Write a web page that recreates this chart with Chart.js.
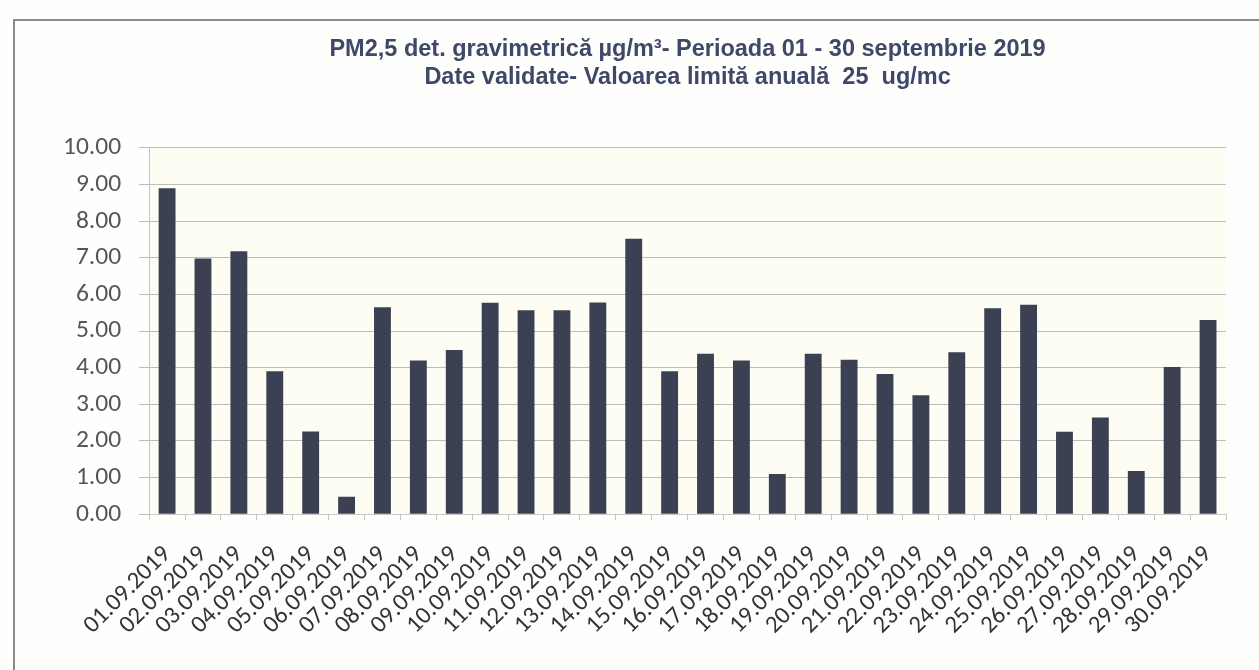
<!DOCTYPE html>
<html lang="ro">

<head>
    <meta charset="UTF-8">
    <title>PM2,5 septembrie 2019</title>
    <style>
        html, body { margin: 0; padding: 0; background: #fefefc; }
        #frame {
            position: absolute; left: 13px; top: 19px;
            width: 1300px; height: 700px;
            border-left: 2px solid #8a8a8a; border-top: 2px solid #8a8a8a;
        }
        #wrap { position: absolute; left: 0; top: 0; width: 1259px; height: 670px; }
    </style>
</head>

<body>
    <div id="frame"></div>
    <div id="wrap">
        <canvas id="myChart" width="1259" height="670"></canvas>
    </div>

    <script src="https://cdn.jsdelivr.net/npm/chart.js/dist/chart.umd.min.js"></script>
    <script>
        // zilele lunii
        const days = [
            '01.09.2019', '02.09.2019', '03.09.2019', '04.09.2019', '05.09.2019',
            '06.09.2019', '07.09.2019', '08.09.2019', '09.09.2019', '10.09.2019',
            '11.09.2019', '12.09.2019', '13.09.2019', '14.09.2019', '15.09.2019',
            '16.09.2019', '17.09.2019', '18.09.2019', '19.09.2019', '20.09.2019',
            '21.09.2019', '22.09.2019', '23.09.2019', '24.09.2019', '25.09.2019',
            '26.09.2019', '27.09.2019', '28.09.2019', '29.09.2019', '30.09.2019'
        ];
        // PM2,5 ug/m3
        const pm25 = [
            8.90, 6.98, 7.18, 3.90, 2.26, 0.48, 5.65, 4.20, 4.48, 5.77,
            5.57, 5.57, 5.78, 7.52, 3.90, 4.38, 4.20, 1.10, 4.38, 4.22,
            3.83, 3.25, 4.42, 5.62, 5.72, 2.25, 2.64, 1.18, 4.02, 5.30
        ];
        const yTicks = [0, 1, 2, 3, 4, 5, 6, 7, 8, 9, 10];

        const titleLines = [
            'PM2,5 det. gravimetrică µg/m³- Perioada 01 - 30 septembrie 2019',
            'Date validate- Valoarea limită anuală  25  ug/mc'
        ];

        const labelFont = 'Carlito, Lato, sans-serif';

        // fundal crem pentru zona graficului
        const plotBg = {
            id: 'plotBg',
            beforeDraw(chart) {
                const a = chart.chartArea;
                const ctx = chart.ctx;
                ctx.save();
                ctx.fillStyle = '#fdfdf4';
                ctx.fillRect(a.left, a.top, a.right - a.left, a.bottom - a.top);
                ctx.restore();
            }
        };

        const config = {
            type: 'bar',
            data: {
                labels: days,
                datasets: [{
                    label: 'PM2,5',
                    data: pm25,
                    backgroundColor: '#3b4153',
                    barPercentage: 0.47,
                    categoryPercentage: 1
                }]
            },
            options: {
                responsive: false,
                animation: false,
                layout: { padding: { left: 45, right: 33, top: 0, bottom: 10 } },
                plugins: {
                    legend: { display: false },
                    tooltip: { enabled: false },
                    title: {
                        display: true,
                        fullSize: false,
                        text: titleLines,
                        color: '#3f4868',
                        font: { family: 'Liberation Sans, Arial, sans-serif', size: 23.5, weight: 'bold', lineHeight: 1.19 },
                        padding: { top: 36, bottom: 56 }
                    }
                },
                scales: {
                    x: {
                        grid: { drawOnChartArea: false, drawTicks: true, tickLength: 6, color: '#c9c0c0' },
                        border: { color: '#d0c4c4' },
                        ticks: {
                            color: '#333',
                            font: { family: labelFont, size: 24.5 },
                            minRotation: 45, maxRotation: 45,
                            autoSkip: false,
                            padding: 20
                        }
                    },
                    y: {
                        min: 0,
                        max: 10,
                        afterBuildTicks(scale) {
                            scale.ticks = yTicks.map(v => ({ value: v }));
                        },
                        grid: { color: '#bcbcbc', tickLength: 10 },
                        border: { color: '#c4c4c4' },
                        ticks: {
                            color: '#555',
                            font: { family: labelFont, size: 25.5 },
                            padding: 18,
                            callback: v => Number(v).toFixed(2)
                        }
                    }
                }
            },
            plugins: [plotBg]
        };

        const myChart = new Chart(
            document.getElementById('myChart'),
            config
        );
    </script>
</body>

</html>
